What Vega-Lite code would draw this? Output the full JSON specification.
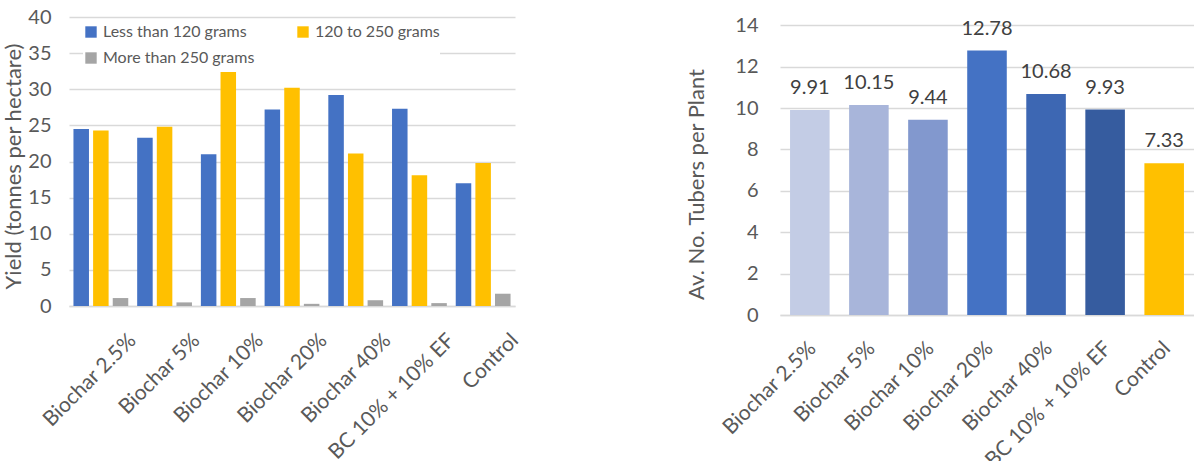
{
  "$schema": "https://vega.github.io/schema/vega-lite/v6.json",
  "background": "white",
  "padding": {"left": 2, "top": 7, "right": 0, "bottom": 0},
  "spacing": 163,
  "resolve": {"scale": {"color": "independent"}, "legend": {"color": "independent"}},
  "config": {
    "view": {"stroke": null},
    "font": "Lato",
    "axis": {
      "labelColor": "#595959",
      "titleColor": "#595959",
      "titleFontWeight": "normal",
      "gridColor": "#D9D9D9",
      "gridWidth": 1.5,
      "domainColor": "#D9D9D9",
      "domainWidth": 1.5,
      "ticks": false
    },
    "axisY": {"domain": false},
    "axisX": {"grid": false}
  },
  "datasets": {
    "yield": [
      {"treatment": "Biochar 2.5%", "size": "Less than 120 grams", "yield": 24.5},
      {"treatment": "Biochar 2.5%", "size": "120 to 250 grams", "yield": 24.3},
      {"treatment": "Biochar 2.5%", "size": "More than 250 grams", "yield": 1.1},
      {"treatment": "Biochar 5%", "size": "Less than 120 grams", "yield": 23.3},
      {"treatment": "Biochar 5%", "size": "120 to 250 grams", "yield": 24.8},
      {"treatment": "Biochar 5%", "size": "More than 250 grams", "yield": 0.5},
      {"treatment": "Biochar 10%", "size": "Less than 120 grams", "yield": 21.0},
      {"treatment": "Biochar 10%", "size": "120 to 250 grams", "yield": 32.4},
      {"treatment": "Biochar 10%", "size": "More than 250 grams", "yield": 1.1},
      {"treatment": "Biochar 20%", "size": "Less than 120 grams", "yield": 27.2},
      {"treatment": "Biochar 20%", "size": "120 to 250 grams", "yield": 30.2},
      {"treatment": "Biochar 20%", "size": "More than 250 grams", "yield": 0.3},
      {"treatment": "Biochar 40%", "size": "Less than 120 grams", "yield": 29.2},
      {"treatment": "Biochar 40%", "size": "120 to 250 grams", "yield": 21.1},
      {"treatment": "Biochar 40%", "size": "More than 250 grams", "yield": 0.8},
      {"treatment": "BC 10% + 10% EF", "size": "Less than 120 grams", "yield": 27.3},
      {"treatment": "BC 10% + 10% EF", "size": "120 to 250 grams", "yield": 18.1},
      {"treatment": "BC 10% + 10% EF", "size": "More than 250 grams", "yield": 0.4},
      {"treatment": "Control", "size": "Less than 120 grams", "yield": 17.0},
      {"treatment": "Control", "size": "120 to 250 grams", "yield": 19.8},
      {"treatment": "Control", "size": "More than 250 grams", "yield": 1.7}
    ],
    "tubers": [
      {"treatment": "Biochar 2.5%", "tubers": 9.91},
      {"treatment": "Biochar 5%", "tubers": 10.15},
      {"treatment": "Biochar 10%", "tubers": 9.44},
      {"treatment": "Biochar 20%", "tubers": 12.78},
      {"treatment": "Biochar 40%", "tubers": 10.68},
      {"treatment": "BC 10% + 10% EF", "tubers": 9.93},
      {"treatment": "Control", "tubers": 7.33}
    ]
  },
  "hconcat": [
    {
      "width": 446,
      "height": 289,
      "data": {"name": "yield"},
      "mark": {"type": "bar"},
      "encoding": {
        "x": {
          "field": "treatment",
          "type": "nominal",
          "sort": ["Biochar 2.5%", "Biochar 5%", "Biochar 10%", "Biochar 20%", "Biochar 40%", "BC 10% + 10% EF", "Control"],
          "scale": {"paddingInner": 0.14, "paddingOuter": 0.07},
          "axis": {"title": null, "labelAngle": -45, "labelAlign": "right", "labelBaseline": "middle", "labelFontSize": 21, "labelPadding": 31, "labelOffset": 32}
        },
        "xOffset": {
          "field": "size",
          "sort": ["Less than 120 grams", "120 to 250 grams", "More than 250 grams"],
          "scale": {"paddingInner": 0.21, "paddingOuter": 0}
        },
        "y": {
          "field": "yield",
          "type": "quantitative",
          "scale": {"domain": [0, 40], "nice": false},
          "axis": {"values": [0, 5, 10, 15, 20, 25, 30, 35, 40], "title": "Yield (tonnes per hectare)", "titleFontSize": 22, "labelFontSize": 20, "labelPadding": 18, "titlePadding": 2, "titleY": 149}
        },
        "color": {
          "field": "size",
          "type": "nominal",
          "sort": ["Less than 120 grams", "120 to 250 grams", "More than 250 grams"],
          "scale": {"domain": ["Less than 120 grams", "120 to 250 grams", "More than 250 grams"], "range": ["#4472C4", "#FFC000", "#A5A5A5"]},
          "legend": {
            "title": null,
            "orient": "none",
            "legendX": 14,
            "legendY": 7,
            "direction": "horizontal",
            "columns": 2,
            "columnPadding": 40,
            "rowPadding": 10,
            "symbolType": "square",
            "symbolSize": 130,
            "symbolStrokeWidth": 0,
            "labelFontSize": 16,
            "labelColor": "#595959",
            "labelOffset": 4,
            "fillColor": "white"
          }
        }
      }
    },
    {
      "width": 414,
      "height": 298,
      "data": {"name": "tubers"},
      "encoding": {
        "x": {
          "field": "treatment",
          "type": "nominal",
          "sort": ["Biochar 2.5%", "Biochar 5%", "Biochar 10%", "Biochar 20%", "Biochar 40%", "BC 10% + 10% EF", "Control"],
          "scale": {"paddingInner": 0.33, "paddingOuter": 0.17},
          "axis": {"title": null, "labelAngle": -45, "labelAlign": "right", "labelBaseline": "middle", "labelFontSize": 21, "labelPadding": 30, "labelOffset": 3}
        },
        "y": {
          "field": "tubers",
          "type": "quantitative",
          "scale": {"domain": [0, 14.4], "nice": false},
          "axis": {"values": [0, 2, 4, 6, 8, 10, 12, 14], "title": "Av. No. Tubers per Plant", "titleFontSize": 22, "labelFontSize": 20, "labelPadding": 22, "titlePadding": 26, "titleY": 167}
        }
      },
      "layer": [
        {
          "mark": {"type": "bar"},
          "encoding": {
            "color": {
              "field": "treatment",
              "type": "nominal",
              "scale": {
                "domain": ["Biochar 2.5%", "Biochar 5%", "Biochar 10%", "Biochar 20%", "Biochar 40%", "BC 10% + 10% EF", "Control"],
                "range": ["#C3CCE5", "#A8B5DA", "#8298CE", "#4472C4", "#3D67B3", "#365C9F", "#FFC000"]
              },
              "legend": null
            }
          }
        },
        {
          "mark": {"type": "text", "baseline": "alphabetic", "dy": -16, "fontSize": 20, "color": "#404040"},
          "encoding": {"text": {"field": "tubers", "type": "quantitative", "format": ".2f"}}
        }
      ]
    }
  ]
}
